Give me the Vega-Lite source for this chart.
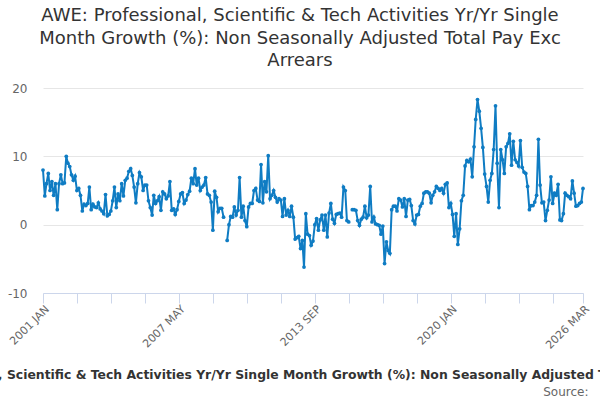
{
  "$schema": "https://vega.github.io/schema/vega-lite/v6.json",
  "width": 540,
  "height": 205,
  "autosize": "none",
  "padding": {"left": 43, "top": 88, "right": 17, "bottom": 107},
  "background": "white",
  "title": {
    "text": [
      "AWE: Professional, Scientific & Tech Activities Yr/Yr Single",
      "Month Growth (%): Non Seasonally Adjusted Total Pay Exc",
      "Arrears"
    ],
    "font": "DejaVu Sans",
    "fontSize": 18,
    "fontWeight": "normal",
    "color": "#333333",
    "anchor": "middle",
    "dx": -13,
    "dy": -8,
    "lineHeight": 22.5
  },
  "data": {
    "values": [
      {"month": "2001-01", "value": 8.0}, {"month": "2001-02", "value": 4.2}, {"month": "2001-03", "value": 6.0}, {"month": "2001-04", "value": 7.5},
      {"month": "2001-05", "value": 5.0}, {"month": "2001-06", "value": 6.3}, {"month": "2001-07", "value": 4.3}, {"month": "2001-08", "value": 6.0},
      {"month": "2001-09", "value": 2.2}, {"month": "2001-10", "value": 6.0}, {"month": "2001-11", "value": 7.3}, {"month": "2001-12", "value": 6.0},
      {"month": "2002-01", "value": 6.1}, {"month": "2002-02", "value": 10.0}, {"month": "2002-03", "value": 9.0}, {"month": "2002-04", "value": 8.5},
      {"month": "2002-05", "value": 7.3}, {"month": "2002-06", "value": 6.5}, {"month": "2002-07", "value": 7.1}, {"month": "2002-08", "value": 5.0},
      {"month": "2002-09", "value": 5.3}, {"month": "2002-10", "value": 4.3}, {"month": "2002-11", "value": 2.0}, {"month": "2002-12", "value": 3.0},
      {"month": "2003-01", "value": 2.8}, {"month": "2003-02", "value": 3.1}, {"month": "2003-03", "value": 5.5}, {"month": "2003-04", "value": 2.2},
      {"month": "2003-05", "value": 3.0}, {"month": "2003-06", "value": 2.6}, {"month": "2003-07", "value": 2.5}, {"month": "2003-08", "value": 3.2},
      {"month": "2003-09", "value": 2.3}, {"month": "2003-10", "value": 2.0}, {"month": "2003-11", "value": 1.6}, {"month": "2003-12", "value": 4.4},
      {"month": "2004-01", "value": 1.3}, {"month": "2004-02", "value": 1.5}, {"month": "2004-03", "value": 2.0}, {"month": "2004-04", "value": 3.5},
      {"month": "2004-05", "value": 5.5}, {"month": "2004-06", "value": 2.5}, {"month": "2004-07", "value": 4.5}, {"month": "2004-08", "value": 3.5},
      {"month": "2004-09", "value": 6.0}, {"month": "2004-10", "value": 4.2}, {"month": "2004-11", "value": 6.5}, {"month": "2004-12", "value": 6.8},
      {"month": "2005-01", "value": 7.8}, {"month": "2005-02", "value": 8.2}, {"month": "2005-03", "value": 7.2}, {"month": "2005-04", "value": 5.5},
      {"month": "2005-05", "value": 3.2}, {"month": "2005-06", "value": 6.0}, {"month": "2005-07", "value": 7.6}, {"month": "2005-08", "value": 7.0},
      {"month": "2005-09", "value": 5.0}, {"month": "2005-10", "value": 5.8}, {"month": "2005-11", "value": 5.8}, {"month": "2005-12", "value": 3.5},
      {"month": "2006-01", "value": 2.5}, {"month": "2006-02", "value": 1.4}, {"month": "2006-03", "value": 4.3}, {"month": "2006-04", "value": 3.1},
      {"month": "2006-05", "value": 3.5}, {"month": "2006-06", "value": 4.1}, {"month": "2006-07", "value": 2.1}, {"month": "2006-08", "value": 4.8},
      {"month": "2006-09", "value": 4.5}, {"month": "2006-10", "value": 3.8}, {"month": "2006-11", "value": 4.2}, {"month": "2006-12", "value": 6.3},
      {"month": "2007-01", "value": 2.1}, {"month": "2007-02", "value": 2.3}, {"month": "2007-03", "value": 1.5}, {"month": "2007-04", "value": 2.2},
      {"month": "2007-05", "value": 3.4}, {"month": "2007-06", "value": 4.5}, {"month": "2007-07", "value": 4.7}, {"month": "2007-08", "value": 3.1},
      {"month": "2007-09", "value": 3.6}, {"month": "2007-10", "value": 4.4}, {"month": "2007-11", "value": 4.9}, {"month": "2007-12", "value": 6.8},
      {"month": "2008-01", "value": 6.0}, {"month": "2008-02", "value": 8.2}, {"month": "2008-03", "value": 5.8}, {"month": "2008-04", "value": 6.8},
      {"month": "2008-05", "value": 5.0}, {"month": "2008-06", "value": 5.5}, {"month": "2008-07", "value": 5.8}, {"month": "2008-08", "value": 6.9},
      {"month": "2008-09", "value": 4.5}, {"month": "2008-10", "value": 4.3}, {"month": "2008-11", "value": 3.3}, {"month": "2008-12", "value": -0.8},
      {"month": "2009-01", "value": 4.9}, {"month": "2009-02", "value": 4.0}, {"month": "2009-03", "value": 1.9}, {"month": "2009-04", "value": 2.4},
      {"month": "2009-05", "value": 2.4}, {"month": "2009-06", "value": 1.1}, {"month": "2009-07", "value": null}, {"month": "2009-08", "value": -2.3},
      {"month": "2009-09", "value": 0.0}, {"month": "2009-10", "value": 1.2}, {"month": "2009-11", "value": 1.1}, {"month": "2009-12", "value": 2.6},
      {"month": "2010-01", "value": 1.4}, {"month": "2010-02", "value": 2.1}, {"month": "2010-03", "value": 6.9}, {"month": "2010-04", "value": 1.1},
      {"month": "2010-05", "value": 2.7}, {"month": "2010-06", "value": 0.6}, {"month": "2010-07", "value": -0.3}, {"month": "2010-08", "value": 2.6},
      {"month": "2010-09", "value": 3.1}, {"month": "2010-10", "value": 3.1}, {"month": "2010-11", "value": 5.0}, {"month": "2010-12", "value": 5.3},
      {"month": "2011-01", "value": 3.6}, {"month": "2011-02", "value": 3.4}, {"month": "2011-03", "value": 8.8}, {"month": "2011-04", "value": 3.2},
      {"month": "2011-05", "value": 6.3}, {"month": "2011-06", "value": 4.8}, {"month": "2011-07", "value": 10.1}, {"month": "2011-08", "value": 3.8},
      {"month": "2011-09", "value": 4.3}, {"month": "2011-10", "value": 5.0}, {"month": "2011-11", "value": 4.0}, {"month": "2011-12", "value": 3.3},
      {"month": "2012-01", "value": 3.8}, {"month": "2012-02", "value": 3.6}, {"month": "2012-03", "value": 1.2}, {"month": "2012-04", "value": 3.8},
      {"month": "2012-05", "value": 1.4}, {"month": "2012-06", "value": 2.1}, {"month": "2012-07", "value": 1.2}, {"month": "2012-08", "value": 2.7},
      {"month": "2012-09", "value": 1.1}, {"month": "2012-10", "value": -2.1}, {"month": "2012-11", "value": -1.9}, {"month": "2012-12", "value": -1.7},
      {"month": "2013-01", "value": -3.5}, {"month": "2013-02", "value": -2.3}, {"month": "2013-03", "value": -6.2}, {"month": "2013-04", "value": 1.6},
      {"month": "2013-05", "value": -1.4}, {"month": "2013-06", "value": -1.6}, {"month": "2013-07", "value": -3.0}, {"month": "2013-08", "value": -2.4},
      {"month": "2013-09", "value": 0.0}, {"month": "2013-10", "value": 0.9}, {"month": "2013-11", "value": -0.8}, {"month": "2013-12", "value": 0.7},
      {"month": "2014-01", "value": 1.4}, {"month": "2014-02", "value": -0.8}, {"month": "2014-03", "value": 1.4}, {"month": "2014-04", "value": -1.8},
      {"month": "2014-05", "value": 1.7}, {"month": "2014-06", "value": 3.1}, {"month": "2014-07", "value": 0.8}, {"month": "2014-08", "value": 0.2},
      {"month": "2014-09", "value": 1.5}, {"month": "2014-10", "value": 1.6}, {"month": "2014-11", "value": 1.7}, {"month": "2014-12", "value": 1.1},
      {"month": "2015-01", "value": 5.5}, {"month": "2015-02", "value": 5.0}, {"month": "2015-03", "value": 0.6}, {"month": "2015-04", "value": 0.4},
      {"month": "2015-05", "value": null}, {"month": "2015-06", "value": 2.2}, {"month": "2015-07", "value": 2.2}, {"month": "2015-08", "value": 2.1},
      {"month": "2015-09", "value": 0.6}, {"month": "2015-10", "value": -0.1}, {"month": "2015-11", "value": 0.8}, {"month": "2015-12", "value": 1.1},
      {"month": "2016-01", "value": 2.7}, {"month": "2016-02", "value": 1.0}, {"month": "2016-03", "value": 1.4}, {"month": "2016-04", "value": 5.6},
      {"month": "2016-05", "value": 0.4}, {"month": "2016-06", "value": 1.1}, {"month": "2016-07", "value": 0.1}, {"month": "2016-08", "value": 0.0},
      {"month": "2016-09", "value": -0.1}, {"month": "2016-10", "value": -1.4}, {"month": "2016-11", "value": -0.2}, {"month": "2016-12", "value": -5.7},
      {"month": "2017-01", "value": -2.5}, {"month": "2017-02", "value": -3.8}, {"month": "2017-03", "value": -4.2}, {"month": "2017-04", "value": 2.2},
      {"month": "2017-05", "value": 2.7}, {"month": "2017-06", "value": 2.7}, {"month": "2017-07", "value": 2.0}, {"month": "2017-08", "value": 3.8},
      {"month": "2017-09", "value": 3.6}, {"month": "2017-10", "value": 2.6}, {"month": "2017-11", "value": 3.8}, {"month": "2017-12", "value": 1.2},
      {"month": "2018-01", "value": 3.6}, {"month": "2018-02", "value": 3.7}, {"month": "2018-03", "value": 2.8}, {"month": "2018-04", "value": 0.6},
      {"month": "2018-05", "value": 0.1}, {"month": "2018-06", "value": 1.4}, {"month": "2018-07", "value": 1.5}, {"month": "2018-08", "value": 2.7},
      {"month": "2018-09", "value": 3.1}, {"month": "2018-10", "value": 4.6}, {"month": "2018-11", "value": 4.8}, {"month": "2018-12", "value": 4.8},
      {"month": "2019-01", "value": 4.6}, {"month": "2019-02", "value": 3.2}, {"month": "2019-03", "value": 4.3}, {"month": "2019-04", "value": 4.8},
      {"month": "2019-05", "value": 5.6}, {"month": "2019-06", "value": 5.3}, {"month": "2019-07", "value": 5.0}, {"month": "2019-08", "value": 5.3},
      {"month": "2019-09", "value": 4.6}, {"month": "2019-10", "value": 5.9}, {"month": "2019-11", "value": 6.1}, {"month": "2019-12", "value": 2.5},
      {"month": "2020-01", "value": 3.1}, {"month": "2020-02", "value": 1.5}, {"month": "2020-03", "value": -1.7}, {"month": "2020-04", "value": 1.6},
      {"month": "2020-05", "value": -2.9}, {"month": "2020-06", "value": -0.6}, {"month": "2020-07", "value": 3.5}, {"month": "2020-08", "value": 4.3},
      {"month": "2020-09", "value": 8.6}, {"month": "2020-10", "value": 9.4}, {"month": "2020-11", "value": 9.2}, {"month": "2020-12", "value": 9.6},
      {"month": "2021-01", "value": 7.0}, {"month": "2021-02", "value": 11.4}, {"month": "2021-03", "value": 15.4}, {"month": "2021-04", "value": 18.3},
      {"month": "2021-05", "value": 16.6}, {"month": "2021-06", "value": 14.1}, {"month": "2021-07", "value": 11.3}, {"month": "2021-08", "value": 7.4},
      {"month": "2021-09", "value": 5.6}, {"month": "2021-10", "value": 3.3}, {"month": "2021-11", "value": 6.5}, {"month": "2021-12", "value": 7.5},
      {"month": "2022-01", "value": 11.0}, {"month": "2022-02", "value": 17.4}, {"month": "2022-03", "value": 9.0}, {"month": "2022-04", "value": 2.5},
      {"month": "2022-05", "value": 11.0}, {"month": "2022-06", "value": 9.5}, {"month": "2022-07", "value": 7.5}, {"month": "2022-08", "value": 11.4},
      {"month": "2022-09", "value": 11.9}, {"month": "2022-10", "value": 13.3}, {"month": "2022-11", "value": 8.7}, {"month": "2022-12", "value": 12.2},
      {"month": "2023-01", "value": 9.5}, {"month": "2023-02", "value": 9.1}, {"month": "2023-03", "value": 8.6}, {"month": "2023-04", "value": 12.3},
      {"month": "2023-05", "value": 8.4}, {"month": "2023-06", "value": 7.7}, {"month": "2023-07", "value": 7.5}, {"month": "2023-08", "value": 5.6},
      {"month": "2023-09", "value": 2.2}, {"month": "2023-10", "value": 2.8}, {"month": "2023-11", "value": 2.8}, {"month": "2023-12", "value": 3.3},
      {"month": "2024-01", "value": 4.3}, {"month": "2024-02", "value": 12.5}, {"month": "2024-03", "value": 5.8}, {"month": "2024-04", "value": 3.2},
      {"month": "2024-05", "value": 3.3}, {"month": "2024-06", "value": 0.6}, {"month": "2024-07", "value": 2.1}, {"month": "2024-08", "value": 3.6},
      {"month": "2024-09", "value": 7.0}, {"month": "2024-10", "value": 3.1}, {"month": "2024-11", "value": 4.6}, {"month": "2024-12", "value": 4.3},
      {"month": "2025-01", "value": 5.9}, {"month": "2025-02", "value": 0.7}, {"month": "2025-03", "value": 0.6}, {"month": "2025-04", "value": 1.6},
      {"month": "2025-05", "value": 4.6}, {"month": "2025-06", "value": 4.3}, {"month": "2025-07", "value": 4.1}, {"month": "2025-08", "value": 3.8},
      {"month": "2025-09", "value": 6.4}, {"month": "2025-10", "value": 4.6}, {"month": "2025-11", "value": 2.7}, {"month": "2025-12", "value": 2.8},
      {"month": "2026-01", "value": 3.1}, {"month": "2026-02", "value": 3.3}, {"month": "2026-03", "value": 5.3}
    ]
  },
  "mark": {
    "type": "line",
    "strokeWidth": 2,
    "point": {"filled": true, "size": 14}
  },
  "encoding": {
    "x": {
      "field": "month",
      "type": "temporal",
      "scale": {"type": "utc"},
      "axis": {
        "values": [
          {"year": 2001, "month": 1, "utc": true}, {"year": 2002, "month": 8, "utc": true},
          {"year": 2004, "month": 3, "utc": true}, {"year": 2005, "month": 10, "utc": true},
          {"year": 2007, "month": 5, "utc": true}, {"year": 2008, "month": 12, "utc": true},
          {"year": 2010, "month": 7, "utc": true}, {"year": 2012, "month": 2, "utc": true},
          {"year": 2013, "month": 9, "utc": true}, {"year": 2015, "month": 4, "utc": true},
          {"year": 2016, "month": 11, "utc": true}, {"year": 2018, "month": 6, "utc": true},
          {"year": 2020, "month": 1, "utc": true}, {"year": 2021, "month": 8, "utc": true},
          {"year": 2023, "month": 3, "utc": true}, {"year": 2024, "month": 10, "utc": true},
          {"year": 2026, "month": 3, "utc": true}
        ],
        "labelExpr": "round(datum.index * 16) % 4 == 0 ? upper(utcFormat(datum.value, '%Y %b')) : ''",
        "labelAngle": -45,
        "labelAlign": "right",
        "labelBaseline": "top",
        "labelOverlap": false,
        "labelBound": false,
        "labelFlush": false,
        "labelPadding": 0,
        "labelFont": "DejaVu Sans",
        "labelFontSize": 11,
        "labelColor": "#666666",
        "domainColor": "#ccd6eb",
        "tickColor": "#ccd6eb",
        "tickSize": 10,
        "grid": false,
        "title": "Source:",
        "titleAnchor": null,
        "titleX": 545,
        "titleY": 98,
        "titleAlign": "right",
        "titleBaseline": "middle",
        "titleFont": "DejaVu Sans",
        "titleFontSize": 12,
        "titleFontWeight": "normal",
        "titleColor": "#666666"
      }
    },
    "y": {
      "field": "value",
      "type": "quantitative",
      "scale": {"domain": [-10, 20], "nice": false, "zero": false},
      "axis": {
        "values": [-10, 0, 10, 20],
        "labelExpr": "'' + datum.value",
        "title": null,
        "domain": false,
        "ticks": false,
        "gridColor": "#e6e6e6",
        "labelFont": "DejaVu Sans",
        "labelFontSize": 12,
        "labelColor": "#666666",
        "labelPadding": 16
      }
    },
    "color": {
      "datum": "AWE: Professional, Scientific & Tech Activities Yr/Yr Single Month Growth (%): Non Seasonally Adjusted Total Pay Exc Arrears",
      "scale": {"range": ["#0f7cc3"]},
      "legend": {
        "orient": "none",
        "legendX": -193,
        "legendY": 278,
        "direction": "horizontal",
        "title": null,
        "padding": 0,
        "labelFont": "DejaVu Sans",
        "labelFontSize": 12.4,
        "labelFontWeight": "bold",
        "labelColor": "#333333",
        "labelLimit": 2000,
        "symbolType": "stroke",
        "symbolStrokeWidth": 2,
        "symbolSize": 200
      }
    }
  },
  "config": {
    "view": {"stroke": null}
  }
}
